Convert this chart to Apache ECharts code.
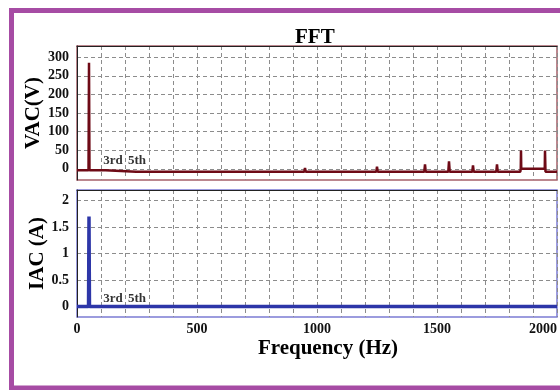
<!DOCTYPE html>
<html><head><meta charset="utf-8">
<script src="https://cdn.jsdelivr.net/npm/echarts@6/dist/echarts.min.js"></script>
<style>html,body{margin:0;padding:0;background:#fff}#c{width:560px;height:390px}</style>
</head><body><div id="c"></div>
<script>
// ---- data ----
const vacFreq = [0, 48, 50, 52, 118, 120,
  247, 250, 253, 447, 450, 453, 647, 650, 653, 747, 750, 753,
  947, 950, 953, 1147, 1150, 1153, 1247, 1250, 1253, 1347, 1350, 1353,
  1447, 1450, 1453, 1547, 1550, 1553, 1647, 1650, 1653, 1747, 1750, 1753,
  1847, 1849, 1850, 1851, 1949, 1950, 1952, 2000];
const vacVolt = [-4, -4, 285, -4, -4, -8,
  -8, -5, -8, -8, -6, -8, -8, -6, -8, -8, -4, -8,
  -8, 2, -8, -8, -5, -8, -8, 6, -8, -8, -5, -8,
  -8, 12, -8, -8, 20, -8, -8, 9, -8, -8, 12, -8,
  -8, 0, 49, 0, 0, 49, -8, -8];
const iacFreq = [0, 48, 50, 52, 2000];
const iacAmp = [0, 0, 1.70, 0, 0];
const freqLabels = [0, 500, 1000, 1500, 2000];
const vacTicks = [0, 50, 100, 150, 200, 250, 300];
const iacTicks = [0, 0.5, 1, 1.5, 2];
const noteNames = ['3rd', '5th'];
const noteFreq = [150, 250];
const noteVac = 22;
const noteIac = 0.145;

const serif = "'Liberation Serif', 'Times New Roman', serif";
const zip = (a, b) => a.map((v, i) => [v, b[i]]);
const gridDash = { type: [4, 3], color: '#8c8c8c', width: 1 };

const chart = echarts.init(document.getElementById('c'), null, { renderer: 'canvas' });

function xAx(grid, showLabels) {
  return {
    type: 'value', gridIndex: grid, min: 0, max: 2000, interval: 100,
    axisLine: { show: false }, axisTick: { show: false },
    splitLine: { show: true, lineStyle: gridDash },
    axisLabel: showLabels ? {
      show: true, customValues: freqLabels, margin: 5, alignMaxLabel: 'right',
      formatter: v => String(v),
      fontFamily: serif, fontWeight: 'bold', fontSize: 14, color: '#111'
    } : { show: false },
    name: showLabels ? 'Frequency (Hz)' : '', nameLocation: 'middle', nameGap: 21,
    nameMoveOverlap: false,
    nameTextStyle: { fontFamily: serif, fontWeight: 'bold', fontSize: 21, color: '#000', padding: [0, 0, 0, 22] }
  };
}
function topLine(grid) {
  return {
    type: 'value', gridIndex: grid, position: 'top', min: 0, max: 2000,
    axisLine: { show: true, lineStyle: { color: '#222', width: 1 } },
    axisTick: { show: false }, axisLabel: { show: false }, splitLine: { show: false }
  };
}
function yAx(grid, min, max, ticks, name, gap) {
  return {
    type: 'value', gridIndex: grid, min: min, max: max,
    axisLine: { show: true, lineStyle: { color: '#222', width: 1 } },
    axisTick: { show: false, customValues: ticks },
    splitLine: { show: true, lineStyle: gridDash },
    axisLabel: { show: true, customValues: ticks, margin: 8, formatter: v => String(v),
      fontFamily: serif, fontWeight: 'bold', fontSize: 14, color: '#111' },
    name: name, nameLocation: 'middle', nameGap: gap, nameRotate: 90,
    nameMoveOverlap: false,
    nameTextStyle: { fontFamily: serif, fontWeight: 'bold', fontSize: 21, color: '#000' }
  };
}
function notes(xi, yi, yv) {
  return {
    type: 'scatter', xAxisIndex: xi, yAxisIndex: yi, symbolSize: 0, silent: true,
    data: noteFreq.map((f, i) => ({ value: [f, yv], name: noteNames[i] })),
    label: { show: true, position: 'inside', formatter: p => p.name,
      fontFamily: serif, fontWeight: 'bold', fontSize: 13, color: '#000' },
    z: 5
  };
}

chart.setOption({
  animation: false,
  backgroundColor: '#fff',
  title: { text: 'FFT', left: 290, top: 22,
    textStyle: { fontFamily: serif, fontWeight: 'bold', fontSize: 21, color: '#000' } },
  graphic: [{
    type: 'rect', silent: true,
    shape: { x: 11.5, y: 10.5, width: 600, height: 377.5 },
    style: { fill: null, stroke: '#A64CA4', lineWidth: 5 }
  }],
  grid: [
    { left: 77, top: 46, width: 480, height: 134, show: true, borderColor: '#A5606A', borderWidth: 1.5 },
    { left: 77, top: 190, width: 480, height: 127, show: true, borderColor: '#7C7CD4', borderWidth: 1.5 }
  ],
  xAxis: [xAx(0, false), xAx(1, true), topLine(0), topLine(1)],
  yAxis: [
    yAx(0, -30, 330, vacTicks, 'VAC(V)', 33),
    yAx(1, -0.2, 2.2, iacTicks, 'IAC (A)', 29)
  ],
  series: [
    { type: 'line', xAxisIndex: 0, yAxisIndex: 0, data: zip(vacFreq, vacVolt),
      symbol: 'none', lineStyle: { color: '#6E0A16', width: 2.5 }, z: 3 },
    { type: 'line', xAxisIndex: 1, yAxisIndex: 1, data: zip(iacFreq, iacAmp),
      symbol: 'none', lineStyle: { color: '#2D36A8', width: 3.5 }, z: 3 },
    notes(0, 0, noteVac),
    notes(1, 1, noteIac)
  ]
});
</script></body></html>
